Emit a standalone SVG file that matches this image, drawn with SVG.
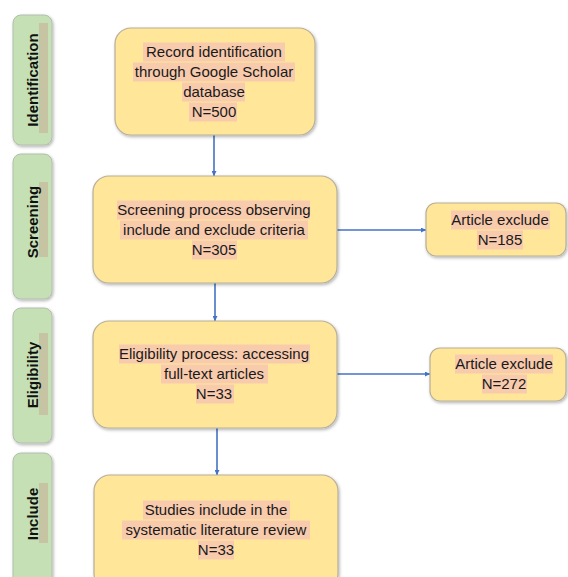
<svg xmlns="http://www.w3.org/2000/svg" width="568" height="577" viewBox="0 0 568 577">
<defs>
<style>
.box{fill:#FFE699;stroke:#b8b09a;stroke-width:1.2;filter:url(#sh)}
.stage{fill:#C5E0B4;stroke:#b5bdb0;stroke-width:1;filter:url(#sh)}
.strip{fill:#c6c4a2}
.hl{fill:#F8CBAD}
.t{font-family:"Liberation Sans",Arial,sans-serif;font-size:15px;fill:#1a1a1a;text-anchor:middle}
.st{font-family:"Liberation Sans",Arial,sans-serif;font-size:15px;font-weight:bold;fill:#111;text-anchor:middle}
.c{stroke:#4472C4;stroke-width:1.6;fill:none;marker-end:url(#ah)}
</style>
<filter id="sh" x="-10%" y="-10%" width="130%" height="130%">
<feDropShadow dx="1" dy="1.5" stdDeviation="1.5" flood-color="#000" flood-opacity="0.3"/>
</filter>
<marker id="ah" viewBox="0 0 10 10" refX="10" refY="5" markerWidth="5" markerHeight="5" orient="auto" markerUnits="userSpaceOnUse">
<path d="M0,0 L10,5 L0,10 z" fill="#4472C4"/>
</marker>
</defs>

<g id="stage-identification">
<rect class="stage" x="13" y="15" width="39" height="130" rx="8"/>
<rect class="strip" x="39" y="23" width="9" height="110"/>
<text class="st" transform="translate(38,80) rotate(-90)">Identification</text>
</g>
<g id="stage-screening">
<rect class="stage" x="13" y="154" width="39" height="145" rx="8"/>
<rect class="strip" x="39" y="182" width="9" height="75"/>
<text class="st" transform="translate(38,222) rotate(-90)">Screening</text>
</g>
<g id="stage-eligibility">
<rect class="stage" x="13" y="308" width="39" height="135" rx="8"/>
<rect class="strip" x="39" y="333" width="9" height="82"/>
<text class="st" transform="translate(38,375) rotate(-90)">Eligibility</text>
</g>
<g id="stage-include">
<rect class="stage" x="13" y="453" width="39" height="140" rx="8"/>
<rect class="strip" x="39" y="483" width="9" height="60"/>
<text class="st" transform="translate(38,514) rotate(-90)">Include</text>
</g>

<g id="connectors">
<line class="c" x1="214" y1="135" x2="214" y2="176"/>
<line class="c" x1="215" y1="283" x2="215" y2="321"/>
<line class="c" x1="217" y1="428" x2="217" y2="475"/>
<line class="c" x1="337" y1="230" x2="426" y2="230"/>
<line class="c" x1="337" y1="374" x2="430" y2="374"/>
</g>

<g id="record-identification">
<rect class="box" x="115" y="28" width="200" height="107" rx="16"/>
<rect class="hl" x="143" y="42.5" width="142" height="19"/>
<rect class="hl" x="133" y="62.5" width="162" height="19"/>
<rect class="hl" x="182" y="82.5" width="63" height="19"/>
<rect class="hl" x="189" y="102.5" width="48" height="19"/>
<text class="t" x="214" y="57">Record identification</text>
<text class="t" x="214" y="77">through Google Scholar</text>
<text class="t" x="214" y="97">database</text>
<text class="t" x="214" y="117">N=500</text>
</g>

<g id="screening-process">
<rect class="box" x="93" y="176" width="244" height="107" rx="16"/>
<rect class="hl" x="117" y="200.5" width="193" height="19"/>
<rect class="hl" x="120" y="220.5" width="188" height="19"/>
<rect class="hl" x="192" y="240.5" width="45" height="19"/>
<text class="t" x="214" y="215">Screening process observing</text>
<text class="t" x="214" y="235">include and exclude criteria</text>
<text class="t" x="214" y="255">N=305</text>
</g>

<g id="article-exclude-185">
<rect class="box" x="426" y="203" width="140" height="53" rx="10"/>
<rect class="hl" x="451" y="210.5" width="99" height="19"/>
<rect class="hl" x="477" y="230.5" width="46" height="19"/>
<text class="t" x="500" y="225">Article exclude</text>
<text class="t" x="500" y="245">N=185</text>
</g>

<g id="eligibility-process">
<rect class="box" x="93" y="321" width="244" height="107" rx="16"/>
<rect class="hl" x="119" y="344.5" width="191" height="19"/>
<rect class="hl" x="161" y="364.5" width="107" height="19"/>
<rect class="hl" x="196" y="384.5" width="38" height="19"/>
<text class="t" x="214" y="359">Eligibility process: accessing</text>
<text class="t" x="214" y="379">full-text articles</text>
<text class="t" x="214" y="399">N=33</text>
</g>

<g id="article-exclude-272">
<rect class="box" x="430" y="348" width="136" height="53" rx="10"/>
<rect class="hl" x="455" y="354.5" width="98" height="19"/>
<rect class="hl" x="482" y="374.5" width="45" height="19"/>
<text class="t" x="504" y="369">Article exclude</text>
<text class="t" x="504" y="389">N=272</text>
</g>

<g id="studies-include">
<rect class="box" x="94" y="475" width="244" height="115" rx="16"/>
<rect class="hl" x="143" y="500.5" width="147" height="19"/>
<rect class="hl" x="122" y="520.5" width="188" height="19"/>
<rect class="hl" x="198" y="540.5" width="36" height="19"/>
<text class="t" x="216" y="515">Studies include in the</text>
<text class="t" x="216" y="535">systematic literature review</text>
<text class="t" x="216" y="555">N=33</text>
</g>
</svg>
